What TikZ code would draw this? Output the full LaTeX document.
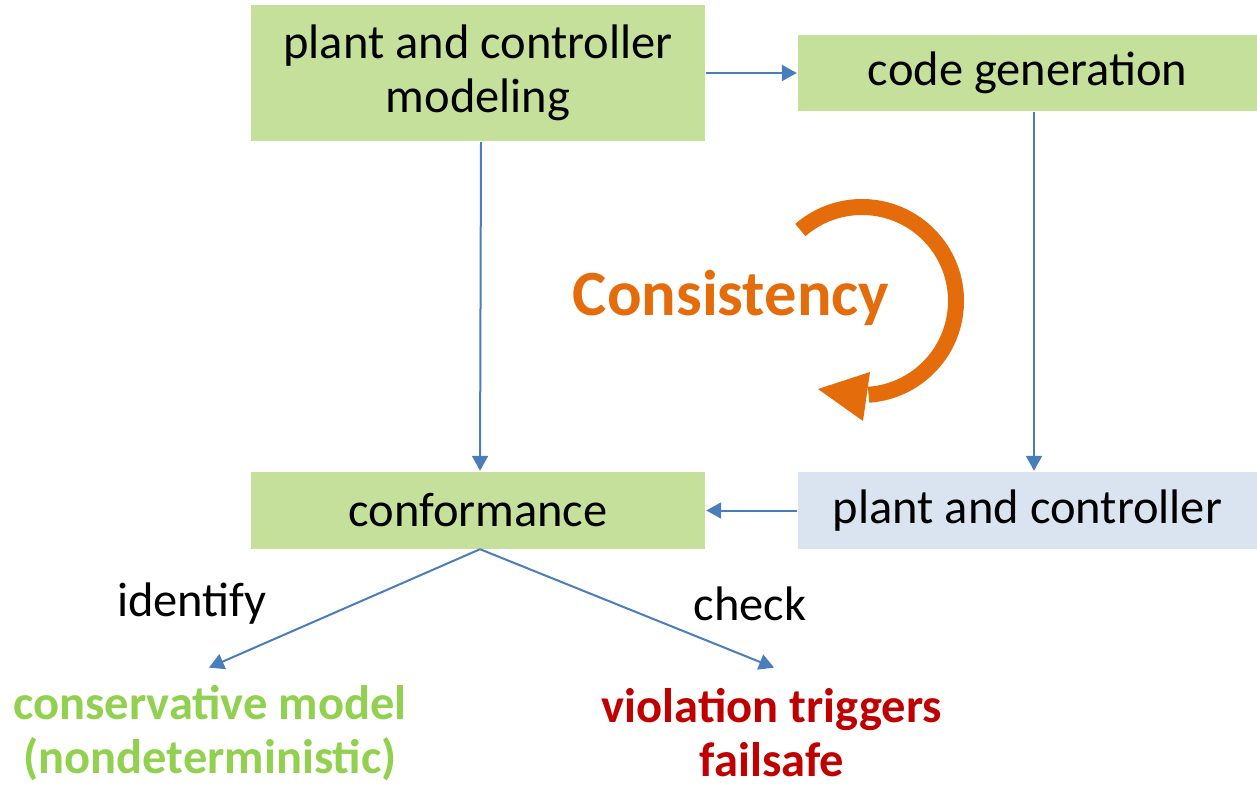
\documentclass[tikz,border=0pt]{standalone}
\usepackage{fontspec}
\setmainfont{Carlito}
\usetikzlibrary{arrows.meta}
\definecolor{boxgreen}{RGB}{197,224,155}
\definecolor{boxblue}{RGB}{218,227,240}
\definecolor{linkblue}{RGB}{74,126,187}
\definecolor{loopor}{RGB}{228,108,10}
\definecolor{okgreen}{RGB}{146,208,80}
\definecolor{badred}{RGB}{192,0,0}
\begin{document}
\begin{tikzpicture}[x=1pt,y=-1pt,
  stage/.style={fill=#1,draw=none,inner sep=0pt,align=center,
    font=\fontsize{48.5}{54}\selectfont},
  link/.style={draw=linkblue,line width=2pt,
    -{Triangle[length=15pt,width=16pt]},shorten >=1pt,shorten <=1pt},
  tag/.style={font=\fontsize{48.5}{54}\selectfont,inner sep=0pt},
  outcome/.style={font=\fontsize{48.5}{54}\selectfont\bfseries,align=center,inner sep=0pt,text=#1}]
\useasboundingbox (0,0) rectangle (1257,786);

% process stages
\node[stage=boxgreen,minimum width=454pt,minimum height=136pt] (model) at (478,73)
  {plant and controller\\modeling};
\node[stage=boxgreen,minimum width=459pt,minimum height=76pt] (codegen) at (1027.5,73)
  {code generation};
\node[stage=boxgreen,minimum width=454pt,minimum height=77pt] (conf) at (478,510.5)
  {conformance};
\node[stage=boxblue,minimum width=459pt,minimum height=77pt] (impl) at (1027.5,510.5)
  {plant and controller};

% flow between stages
\draw[link] (model.east) -- (codegen.west);
\draw[link] (model.south -| 481,0) -- (conf.north -| 480,0);
\draw[link] (codegen.south -| 1034,0) -- (impl.north -| 1034,0);
\draw[link] (impl.west) -- (conf.east);

% outcomes of conformance
\coordinate (idtip) at (208,668);
\coordinate (cktip) at (775,668);
\draw[link,shorten <=0pt] ([xshift=2pt]conf.south) -- (idtip);
\draw[link,shorten <=0pt] ([xshift=2pt]conf.south) -- (cktip);
\node[tag] (identify) at (192,604) {identify};
\node[tag] (check) at (750,604) {check};
\node[outcome=okgreen] (cons) at (210,733) {conservative model\\(nondeterministic)};
\node[outcome=badred] (viol) at (772,733) {violation triggers\\failsafe};

% consistency loop
\node[font=\fontsize{64.5}{70}\selectfont\bfseries,text=loopor,inner sep=0pt] (consist) at (731,298) {Consistency};
\draw[loopor,line width=16pt] (862,301) ++(-131:94) arc[start angle=-131,end angle=86,radius=94];
\fill[loopor] (818,389) -- (870,372) -- (863,421) -- cycle;
\end{tikzpicture}
\end{document}
